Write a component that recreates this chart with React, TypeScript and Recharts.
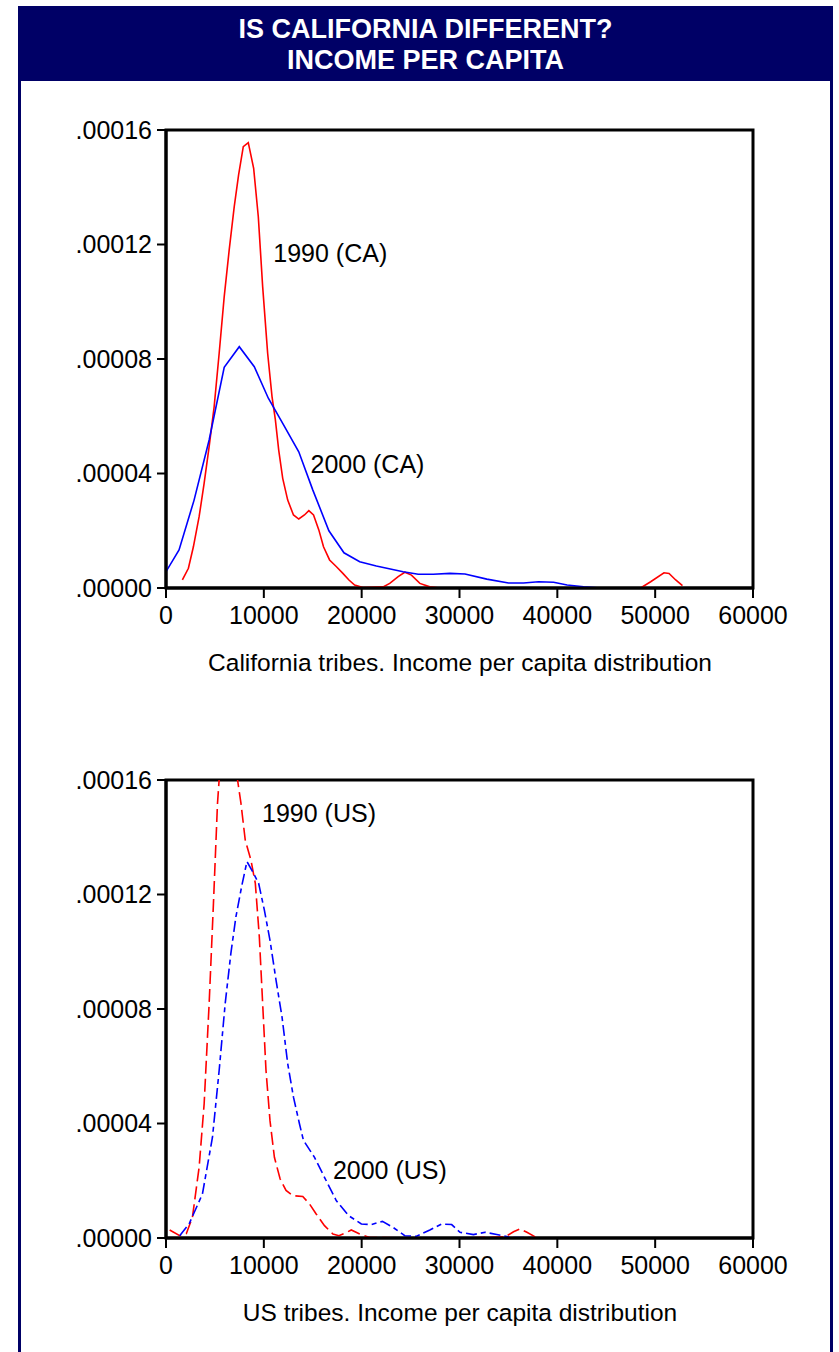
import React from 'react';
import { LineChart, Line, XAxis, YAxis, ReferenceArea, ReferenceDot } from 'recharts';

const FONT = '"Liberation Sans", Arial, Helvetica, sans-serif';
const NAVY = '#000066';

// density values are stored in units of 1e-6
const xTicks = [0, 10000, 20000, 30000, 40000, 50000, 60000];
const yTicks = [0, 40, 80, 120, 160];

const ca1990Income = [1675, 2290, 2800, 3385, 3900, 4410, 4920, 5435, 5950, 6460, 6975, 7420, 7900, 8410, 8960, 9435, 9880, 10390, 10840, 11180, 11520, 11930, 12440, 13030, 13570, 14150, 14600, 15080, 15620, 16100, 16720, 17400, 18080, 18700, 19280, 20140, 22190, 22870, 23730, 24410, 25090, 25950, 26970, 28000, 48510, 49540, 50900, 51420, 52100, 52790];
const ca1990Density = [2.8, 6.9, 14.4, 24.9, 36.6, 49.4, 63.3, 82, 101.8, 118.1, 133.2, 144.3, 154.2, 155.6, 146.6, 129.7, 105.3, 82, 66.8, 58.7, 48.2, 38.3, 30.7, 25.5, 24.1, 25.5, 27.0, 25.5, 20.3, 14.4, 9.8, 7.5, 5.1, 2.8, 1.0, 0.2, 0.4, 1.6, 4.0, 5.5, 4.5, 1.6, 0.4, 0, 0, 2.2, 5.3, 5.1, 2.8, 0.8];

const ca2000Income = [0, 1333, 2870, 4410, 5950, 7490, 9025, 10460, 11930, 13570, 15010, 16650, 18190, 19800, 21500, 24240, 25780, 27310, 29030, 30560, 32790, 35010, 36540, 38080, 39620, 41000, 42700, 44410, 50000, 60000];
const ca2000Density = [5.7, 13.3, 30.7, 51.7, 77.1, 84.3, 77.3, 66.3, 57.5, 47.6, 34.2, 20.0, 12.3, 9.2, 7.7, 5.7, 4.8, 4.8, 5.1, 4.9, 3.1, 1.75, 1.75, 2.2, 2.0, 1.05, 0.45, 0, 0, 0];

const us1990Income = [376, 1400, 2085, 2700, 3385, 3900, 4410, 4850, 5265, 5430, 5800, 6300, 6800, 7315, 7660, 8100, 8685, 9130, 9540, 9880, 10220, 10630, 11080, 11660, 12270, 12960, 13980, 14670, 15350, 16200, 17060, 17670, 18260, 18940, 19800, 20820, 25000, 30000, 34670, 35520, 36200, 36890, 37740];
const us1990Density = [2.8, 0.8, 1.6, 7.2, 24.7, 46.9, 81.9, 116.9, 151.9, 160, 178, 188, 182, 160, 151.9, 139, 132, 123.9, 105.2, 81.9, 58.6, 41, 28.2, 20.7, 16.6, 14.8, 14.5, 11.9, 8.4, 4.3, 1.4, 0.8, 1.6, 2.8, 1.4, 0.2, 0, 0, 0.4, 2.2, 3.15, 2.0, 0.4];

const us2000Income = [1400, 2360, 3725, 4750, 5435, 6050, 6630, 7145, 7760, 8275, 8855, 9470, 10050, 10630, 11250, 11860, 12440, 13030, 13640, 14050, 15180, 16200, 17400, 18670, 19970, 20990, 22120, 23210, 24410, 25610, 26970, 28170, 29200, 30050, 31420, 32620, 33810, 35350, 40000, 50000, 60000];
const us2000Density = [0.8, 4.9, 15.4, 35.2, 58.6, 81.9, 99.4, 112.2, 123.3, 131.5, 128, 123.9, 114.6, 104, 90, 77.2, 60.9, 49.2, 39.9, 34.1, 28.2, 21.2, 13.1, 7.8, 4.9, 4.7, 5.8, 3.7, 0.8, 0.6, 2.8, 4.9, 4.7, 2.0, 1.2, 2.0, 1.2, 0.2, 0, 0, 0];

const caLabelNames = ['1990 (CA)', '2000 (CA)'];
const caLabelX = [10970, 14770];
const caLabelY = [117, 43.3];
const usLabelNames = ['1990 (US)', '2000 (US)'];
const usLabelX = [9815, 17060];
const usLabelY = [148.4, 23.8];

const zip = (xs: number[], ys: number[]) => xs.map((x, i) => ({ x, y: ys[i] }));

const fmtY = (v: number) => (v * 1e-6).toFixed(5).replace(/^0/, '');

type Series = { data: { x: number; y: number }[]; color: string; dash?: string };

function Panel({ top, series, names, lx, ly, title }: { top: number; series: Series[]; names: string[]; lx: number[]; ly: number[]; title: string }) {
  return (
    <>
      <div style={{ position: 'absolute', left: 0, top }}>
        <LineChart width={839} height={700} margin={{ top: 130, right: 86, bottom: 12, left: 76 }} style={{ fontFamily: FONT }}>
          <XAxis
            type="number"
            dataKey="x"
            domain={[0, 60000]}
            ticks={xTicks}
            interval={0}
            allowDataOverflow
            height={100}
            tickSize={10}
            tickMargin={8}
            axisLine={{ stroke: '#000', strokeWidth: 3 }}
            tickLine={{ stroke: '#000', strokeWidth: 2 }}
            tick={{ fill: '#000', fontSize: 25, fontFamily: FONT }}
          />
          <YAxis
            type="number"
            domain={[0, 160]}
            ticks={yTicks}
            interval={0}
            allowDataOverflow
            width={90}
            tickSize={9}
            tickMargin={5}
            tickFormatter={fmtY}
            axisLine={{ stroke: '#000', strokeWidth: 3 }}
            tickLine={{ stroke: '#000', strokeWidth: 2 }}
            tick={{ fill: '#000', fontSize: 25, fontFamily: FONT }}
          />
          <ReferenceArea x1={0} x2={60000} y1={0} y2={160} fill="none" fillOpacity={0} stroke="#000" strokeWidth={3} />
          {series.map((s, i) => (
            <Line
              key={i}
              data={s.data}
              dataKey="y"
              type="linear"
              stroke={s.color}
              strokeWidth={1.6}
              strokeDasharray={s.dash}
              dot={false}
              activeDot={false}
              isAnimationActive={false}
            />
          ))}
          {names.map((n, i) => (
            <ReferenceDot
              key={n}
              x={lx[i]}
              y={ly[i]}
              r={0}
              fill="none"
              stroke="none"
              label={{ value: n, position: 'right', offset: 0, fill: '#000', fontSize: 25, fontFamily: FONT }}
            />
          ))}
        </LineChart>
      </div>
      <div
        style={{
          position: 'absolute',
          left: 0,
          width: 920,
          top: top + 648,
          textAlign: 'center',
          fontFamily: FONT,
          fontSize: 24.5,
          lineHeight: '30px',
          color: '#000',
          whiteSpace: 'nowrap',
        }}
      >
        {title}
      </div>
    </>
  );
}

export default function App() {
  const caSeries: Series[] = [
    { data: zip(ca1990Income, ca1990Density), color: '#ff0000' },
    { data: zip(ca2000Income, ca2000Density), color: '#0000ff' },
  ];
  const usSeries: Series[] = [
    { data: zip(us1990Income, us1990Density), color: '#ff0000', dash: '13 5' },
    { data: zip(us2000Income, us2000Density), color: '#0000ff', dash: '11 4 5 4' },
  ];
  return (
    <div style={{ position: 'absolute', left: 0, top: 0, width: 839, height: 1352, background: '#fff', overflow: 'hidden' }}>
      <Panel top={0} series={caSeries} names={caLabelNames} lx={caLabelX} ly={caLabelY} title="California tribes. Income per capita distribution" />
      <Panel top={650} series={usSeries} names={usLabelNames} lx={usLabelX} ly={usLabelY} title="US tribes. Income per capita distribution" />
      <div
        style={{
          position: 'absolute',
          left: 18,
          top: 6,
          width: 815,
          height: 75,
          background: NAVY,
          color: '#fff',
          fontFamily: FONT,
          fontWeight: 'bold',
          fontSize: 27,
          lineHeight: '31px',
          textAlign: 'center',
          paddingTop: 8,
          boxSizing: 'border-box',
        }}
      >
        IS CALIFORNIA DIFFERENT?
        <br />
        INCOME PER CAPITA
      </div>
      <div style={{ position: 'absolute', left: 18, top: 81, width: 3, height: 1271, background: NAVY }} />
      <div style={{ position: 'absolute', left: 830, top: 81, width: 3, height: 1271, background: NAVY }} />
    </div>
  );
}
